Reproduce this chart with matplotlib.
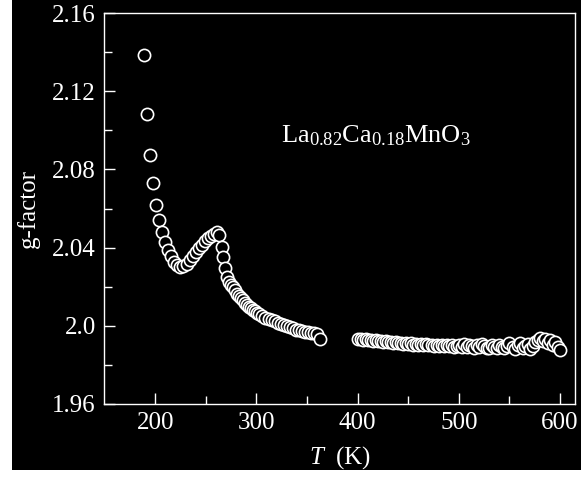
import numpy as np
import matplotlib
matplotlib.use("Agg")
import matplotlib.pyplot as plt
from matplotlib.patches import Rectangle

plt.rcParams['font.family'] = ['Liberation Serif', 'DejaVu Serif']
plt.rcParams['mathtext.fontset'] = 'custom'
plt.rcParams['mathtext.rm'] = 'Liberation Serif'
plt.rcParams['mathtext.it'] = 'Liberation Serif:italic'

# low temperature branch (T < 370 K)
T_low = [189, 192, 195, 198, 201, 204, 207, 210, 213, 216, 219, 222, 225, 228,
         231, 234, 237, 240, 243, 246, 249, 252, 255, 258, 261, 263, 266, 267,
         269, 271, 273, 275, 277, 279, 281, 283, 285, 287, 289, 291, 293, 295,
         297, 299, 301, 303, 306, 309, 312, 315, 318, 321, 324, 327, 330, 333,
         336, 339, 342, 345, 348, 351, 354, 357, 360, 363]
g_low = [2.1385, 2.1082, 2.0874, 2.0730, 2.0620, 2.0540, 2.0480, 2.0430, 2.0390,
         2.0355, 2.0325, 2.0310, 2.0300, 2.0305, 2.0318, 2.0337, 2.0358, 2.0378,
         2.0396, 2.0415, 2.0432, 2.0448, 2.0460, 2.0470, 2.0478, 2.0465, 2.0402,
         2.0350, 2.0294, 2.0250, 2.0225, 2.0210, 2.0198, 2.0182, 2.0165, 2.0150,
         2.0140, 2.0130, 2.0118, 2.0108, 2.0098, 2.0090, 2.0082, 2.0074, 2.0066,
         2.0058, 2.0050, 2.0042, 2.0035, 2.0028, 2.0022, 2.0016, 2.0010, 2.0003,
         1.9997, 1.9992, 1.9987, 1.9981, 1.9977, 1.9972, 1.9968, 1.9966, 1.9963,
         1.9961, 1.9958, 1.9930]

# high temperature branch (400-600 K)
T_high = [400, 403, 405, 408, 410, 413, 415, 418, 420, 423, 425, 428, 430, 433,
          435, 438, 440, 443, 445, 448, 450, 453, 455, 458, 460, 463, 465, 468,
          470, 473, 475, 478, 480, 483, 485, 488, 490, 493, 495, 498, 500, 503,
          505, 508, 510, 513, 515, 518, 520, 523, 525, 528, 530, 533, 535, 538,
          540, 543, 545, 548, 550, 553, 555, 558, 560, 563, 565, 568, 570, 573,
          575, 578, 580, 583, 585, 588, 590, 593, 595, 598, 600]
g_high = [1.9932, 1.9930, 1.9927, 1.9931, 1.9925, 1.9929, 1.9922, 1.9927, 1.9920,
          1.9924, 1.9918, 1.9922, 1.9915, 1.9919, 1.9912, 1.9916, 1.9910, 1.9914,
          1.9908, 1.9912, 1.9906, 1.9910, 1.9904, 1.9908, 1.9903, 1.9907, 1.9901,
          1.9905, 1.9900, 1.9904, 1.9898, 1.9903, 1.9897, 1.9902, 1.9896, 1.9901,
          1.9895, 1.9900, 1.9894, 1.9899, 1.9902, 1.9893, 1.9905, 1.9890, 1.9900,
          1.9895, 1.9888, 1.9903, 1.9893, 1.9908, 1.9897, 1.9889, 1.9885, 1.9900,
          1.9892, 1.9887, 1.9902, 1.9891, 1.9884, 1.9898, 1.9910, 1.9893, 1.9883,
          1.9902, 1.9913, 1.9886, 1.9897, 1.9905, 1.9882, 1.9899, 1.9915, 1.9928,
          1.9937, 1.9920, 1.9932, 1.9910, 1.9926, 1.9903, 1.9915, 1.9893, 1.9875]

fig = plt.figure(figsize=(5.81, 4.78), dpi=100, facecolor='white')
fig.patches.append(Rectangle((12 / 581, 8 / 478), 1, 1, transform=fig.transFigure,
                             facecolor='black', edgecolor='none', zorder=-10))
ax = fig.add_axes([104 / 581, 74 / 478, 471.3 / 581, 391 / 478])
ax.set_facecolor('black')

ax.plot(T_low, g_low, 'o', ms=8.8, mfc='black', mec='white', mew=1.2)
ax.plot(T_high, g_high, 'o', ms=8.8, mfc='black', mec='white', mew=1.2)

ax.set_xlim(149.5, 615)
ax.set_ylim(1.96, 2.16)
ax.set_xticks([200, 300, 400, 500, 600])
ax.set_xticks([250, 350, 450, 550], minor=True)
ax.set_yticks([1.96, 2.0, 2.04, 2.08, 2.12, 2.16])
ax.set_yticklabels(['1.96', '2.0', '2.04', '2.08', '2.12', '2.16'])
ax.set_yticks([1.98, 2.02, 2.06, 2.10, 2.14], minor=True)

for s in ax.spines.values():
    s.set_color('white')
    s.set_linewidth(1.0)
ax.tick_params(which='both', direction='in', colors='white', width=1.0,
               labelsize=18, pad=6, top=False, right=False)
ax.tick_params(which='major', length=8)
ax.tick_params(which='minor', length=5.5)

ax.set_xlabel(r'$T$  (K)', color='white', fontsize=18, labelpad=7)
ax.set_ylabel('g-factor', color='white', fontsize=18, labelpad=9)

ax.text(418, 2.097, r'La$_{0.82}$Ca$_{0.18}$MnO$_3$', color='white',
        fontsize=19, ha='center', va='center')

fig.savefig('out.png', dpi=100, facecolor=fig.get_facecolor())
